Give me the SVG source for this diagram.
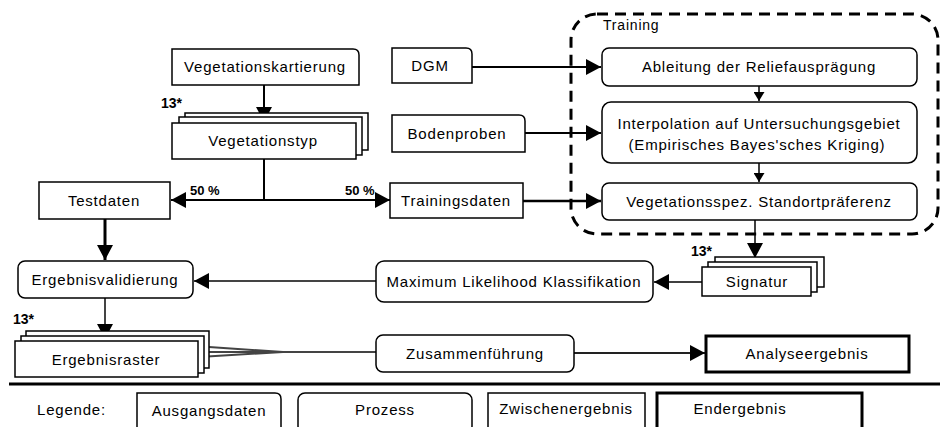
<svg xmlns="http://www.w3.org/2000/svg" width="945" height="427" viewBox="0 0 945 427">
<defs>
<style>
text{font-family:"Liberation Sans",Arial,sans-serif;font-size:15px;letter-spacing:0.8px;fill:#000;text-anchor:middle}
.lbl{font-size:13px;font-weight:bold;letter-spacing:0;text-anchor:start}
.b{fill:#fff;stroke:#000;stroke-width:1.5}
.end{fill:#fff;stroke:#000;stroke-width:3}
.c{fill:none;stroke:#000;stroke-width:2}
.g{fill:none;stroke:#444;stroke-width:2}
.dash{fill:none;stroke:#000;stroke-width:3;stroke-dasharray:11 7}
</style>
<marker id="big" markerUnits="userSpaceOnUse" markerWidth="15" markerHeight="16" refX="15" refY="8" orient="auto"><path d="M0,0 L15,8 L0,16 z" fill="#000"/></marker>
<marker id="sm" markerUnits="userSpaceOnUse" markerWidth="9" markerHeight="11" refX="9" refY="5.5" orient="auto"><path d="M0,0 L9,5.5 L0,11 z" fill="#000"/></marker>
</defs>
<rect width="945" height="427" fill="#fff"/>

<g id="training">
<rect class="dash" x="571" y="14" width="367" height="220" rx="26"/>
<text x="603" y="30" style="font-size:14px;text-anchor:start">Training</text>
</g>

<g id="connectors">
<line class="c" x1="264" y1="85" x2="264" y2="122" marker-end="url(#big)"/>
<line class="c" x1="264" y1="159" x2="264" y2="200"/>
<line class="c" x1="264" y1="200" x2="171" y2="200" marker-end="url(#big)"/>
<line class="c" x1="264" y1="200" x2="390" y2="200" marker-end="url(#big)"/>
<line class="c" x1="523" y1="201" x2="601" y2="201" style="stroke-width:2.5" marker-end="url(#big)"/>
<line class="c" x1="472" y1="67" x2="601" y2="67" marker-end="url(#big)"/>
<line class="c" x1="525" y1="133" x2="601" y2="133" marker-end="url(#big)"/>
<line class="c" x1="759" y1="86" x2="759" y2="101" style="stroke-width:1.5" marker-end="url(#sm)"/>
<line class="c" x1="759" y1="163" x2="759" y2="182" style="stroke-width:1.5" marker-end="url(#sm)"/>
<line class="c" x1="755" y1="220" x2="755" y2="258" style="stroke-width:1.5" marker-end="url(#big)"/>
<line class="c" x1="702" y1="282" x2="654" y2="282" style="stroke-width:1.5" marker-end="url(#big)"/>
<line class="g" x1="376" y1="281" x2="194" y2="281" marker-end="url(#big)"/>
<line class="c" x1="105" y1="219" x2="105" y2="260" style="stroke-width:3" marker-end="url(#big)"/>
<line class="g" x1="105" y1="298" x2="105" y2="339" marker-end="url(#big)"/>
<polyline class="g" points="209,347 283,352 376,352"/>
<polyline class="g" points="204,352 283,352"/>
<polyline class="g" points="199,357 283,352"/>
<line class="c" x1="574" y1="353" x2="705" y2="353" style="stroke:#222" marker-end="url(#big)"/>
<text class="lbl" x="190" y="195">50 %</text>
<text class="lbl" x="345" y="195">50 %</text>
</g>

<g id="vegetationskartierung">
<path class="b" d="M172,49 H353 Q359,49 359,55 V85 H172 Z"/>
<text x="265" y="72">Vegetationskartierung</text>
</g>

<g id="vegetationstyp">
<text class="lbl" x="161" y="108" style="font-size:14px">13*</text>
<rect class="b" x="185" y="113" width="183" height="37"/>
<rect class="b" x="179" y="117" width="183" height="38"/>
<rect class="b" x="172" y="123" width="184" height="36"/>
<text x="263" y="146">Vegetationstyp</text>
</g>

<g id="testdaten">
<rect class="b" x="39" y="182" width="131" height="37"/>
<text x="104" y="206">Testdaten</text>
</g>

<g id="trainingsdaten">
<rect class="b" x="390" y="183" width="133" height="35"/>
<text x="456" y="206">Trainingsdaten</text>
</g>

<g id="dgm">
<path class="b" d="M392,48 H466 Q472,48 472,54 V83 H392 Z"/>
<text x="430" y="71">DGM</text>
</g>

<g id="bodenproben">
<path class="b" d="M392,115 H519 Q525,115 525,121 V152 H392 Z"/>
<text x="457" y="139">Bodenproben</text>
</g>

<g id="ableitung">
<rect class="b" x="602" y="48" width="315" height="38" rx="7"/>
<text x="759" y="72">Ableitung der Reliefausprägung</text>
</g>

<g id="interpolation">
<rect class="b" x="602" y="102" width="315" height="61" rx="9"/>
<text x="759" y="129">Interpolation auf Untersuchungsgebiet</text>
<text x="757" y="150">(Empirisches Bayes'sches Kriging)</text>
</g>

<g id="standortpraeferenz">
<rect class="b" x="602" y="183" width="315" height="37" rx="7"/>
<text x="759" y="207">Vegetationsspez. Standortpräferenz</text>
</g>

<g id="signatur">
<text class="lbl" x="691" y="256" style="font-size:14px">13*</text>
<rect class="b" x="715" y="257" width="109" height="30"/>
<rect class="b" x="708" y="262" width="109" height="30"/>
<rect class="b" x="702" y="267" width="109" height="29"/>
<text x="757" y="287">Signatur</text>
</g>

<g id="maxlikelihood">
<rect class="b" x="376" y="261" width="277" height="41" rx="8"/>
<text x="514" y="287">Maximum Likelihood Klassifikation</text>
</g>

<g id="ergebnisvalidierung">
<rect class="b" x="18" y="261" width="175" height="37" rx="7"/>
<text x="105" y="285">Ergebnisvalidierung</text>
</g>

<g id="ergebnisraster">
<text class="lbl" x="13" y="324" style="font-size:14px">13*</text>
<rect class="b" x="26" y="331" width="183" height="37"/>
<rect class="b" x="21" y="336" width="183" height="37"/>
<rect class="b" x="15" y="341" width="183" height="36"/>
<text x="106" y="365">Ergebnisraster</text>
</g>

<g id="zusammenfuehrung">
<rect class="b" x="376" y="335" width="198" height="37" rx="7"/>
<text x="475" y="359">Zusammenführung</text>
</g>

<g id="analyseergebnis">
<rect class="end" x="706" y="336" width="203" height="36"/>
<text x="807" y="359">Analyseergebnis</text>
</g>

<line x1="9" y1="384" x2="940" y2="384" stroke="#000" stroke-width="3"/>

<g id="legende">
<text x="37" y="415" style="text-anchor:start">Legende:</text>
<path class="b" d="M137,393 H275 Q281,393 281,399 V432 H137 Z"/>
<text x="209" y="416">Ausgangsdaten</text>
<rect class="b" x="298" y="393" width="174" height="40" rx="7"/>
<text x="385" y="415">Prozess</text>
<rect class="b" x="488" y="393" width="157" height="40"/>
<text x="566" y="414">Zwischenergebnis</text>
<rect class="end" x="657" y="393" width="205" height="40"/>
<text x="740" y="414">Endergebnis</text>
</g>
</svg>
